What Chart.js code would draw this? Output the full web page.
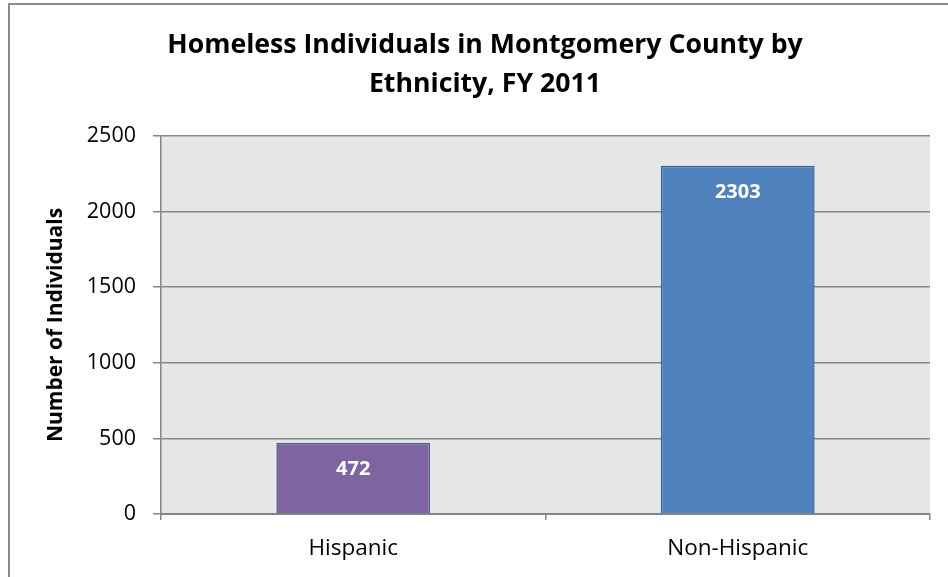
<!DOCTYPE html>
<html>
<head>
<meta charset="utf-8">
<script src="https://cdn.jsdelivr.net/npm/chart.js@4"></script>
<style>
  html, body { margin: 0; padding: 0; background: #ffffff; }
  #wrap { width: 948px; height: 577px; position: relative; }
</style>
</head>
<body>
<div id="wrap"><canvas id="myChart" width="948" height="577"></canvas></div>
<script>
const categories = ["Hispanic", "Non-Hispanic"];
const individuals = [472, 2303];
const barColors = ["#8064A2", "#4F81BD"];
const yTicks = [0, 500, 1000, 1500, 2000, 2500];

const fontFamily = "'Open Sans', Lato, sans-serif";
const axisGray = "#868686";

// grey plot area + outer frame, like the spreadsheet export
const plotBackground = {
    id: "plotBackground",
    afterLayout(chart) {
        // excel centres the title a bit right of the canvas middle
        if (chart.titleBlock) {
            chart.titleBlock.left = 40;
            chart.titleBlock.right = 930;
        }
    },
    beforeDraw(chart) {
        const ctx = chart.ctx;
        const a = chart.chartArea;
        ctx.save();
        ctx.fillStyle = "#ffffff";
        ctx.fillRect(0, 0, chart.width, chart.height);
        ctx.fillStyle = "#E6E6E6";
        ctx.fillRect(a.left, a.top, a.right - a.left, a.bottom - a.top);
        ctx.strokeStyle = "#8c8c8c";
        ctx.lineWidth = 2;
        ctx.strokeRect(9, 4, chart.width + 20, chart.height + 20);
        ctx.restore();
    }
};

// white value labels just inside the top of each bar
const valueLabels = {
    id: "valueLabels",
    afterDatasetsDraw(chart) {
        const ctx = chart.ctx;
        const meta = chart.getDatasetMeta(0);
        ctx.save();
        ctx.fillStyle = "#ffffff";
        ctx.font = "bold 20px " + fontFamily;
        ctx.textAlign = "center";
        ctx.textBaseline = "middle";
        meta.data.forEach(function (bar, i) {
            ctx.fillText(String(individuals[i]), bar.x, bar.y + 27);
        });
        ctx.restore();
    }
};

const ctx = document.getElementById("myChart").getContext("2d");
const chart = new Chart(ctx, {
    type: "bar",
    data: {
        labels: categories,
        datasets: [{
            label: "Number of Individuals",
            data: individuals,
            backgroundColor: barColors,
            borderColor: "#3F6390",
            borderWidth: 1.5,
            categoryPercentage: 1.0,
            barPercentage: 0.4
        }]
    },
    options: {
        responsive: false,
        animation: false,
        layout: { padding: { left: 9, right: 18, top: 0, bottom: 0 } },
        plugins: {
            legend: { display: false },
            tooltip: { enabled: false },
            title: {
                display: true,
                text: ["Homeless Individuals in Montgomery County by", "Ethnicity, FY 2011"],
                color: "#000000",
                font: { family: fontFamily, size: 26.7, weight: "bold", lineHeight: 1.46 },
                padding: { top: 26, bottom: 32 }
            }
        },
        scales: {
            x: {
                grid: {
                    offset: true,
                    drawOnChartArea: false,
                    drawTicks: true,
                    tickLength: 6,
                    color: axisGray,
                    lineWidth: 1.5
                },
                border: { display: true, color: axisGray, width: 2 },
                ticks: {
                    color: "#000000",
                    padding: 15,
                    font: { family: fontFamily, size: 22.5 }
                },
                afterFit(scale) { scale.height = 63; }
            },
            y: {
                min: 0,
                max: 2500,
                afterBuildTicks(scale) {
                    scale.ticks = yTicks.map(function (v) { return { value: v }; });
                },
                grid: {
                    color: axisGray,
                    lineWidth: 1.5,
                    drawTicks: true,
                    tickLength: 8
                },
                border: { display: true, color: axisGray, width: 1.5 },
                ticks: {
                    color: "#000000",
                    padding: 17,
                    font: { family: fontFamily, size: 21.5 },
                    callback: function (value) { return String(value); }
                },
                title: {
                    display: true,
                    text: "Number of Individuals",
                    color: "#000000",
                    font: { family: fontFamily, size: 21, weight: "bold" },
                    padding: { top: 34, bottom: 0 }
                },
                afterFit(scale) { scale.width = 152; }
            }
        }
    },
    plugins: [plotBackground, valueLabels]
});
</script>
</body>
</html>
